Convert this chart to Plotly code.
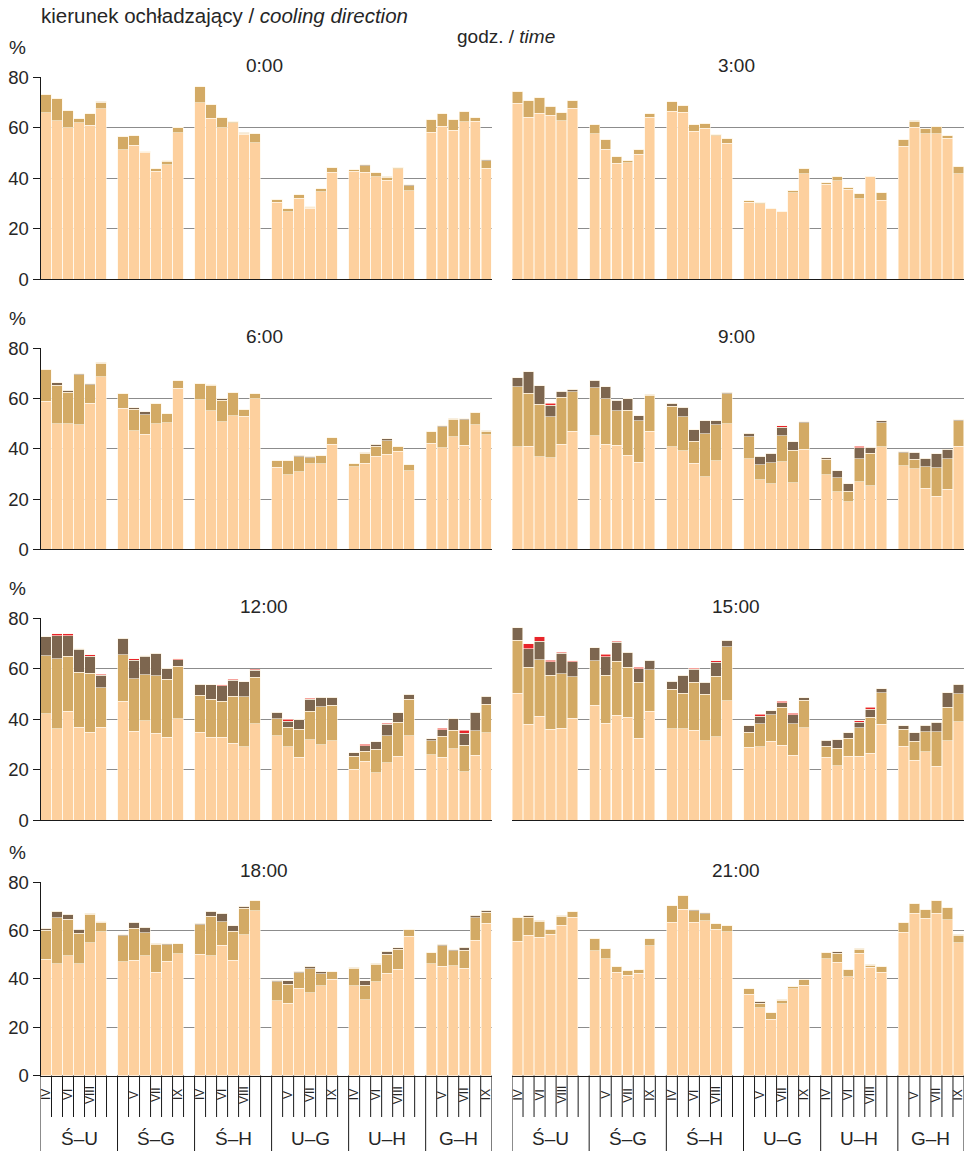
import plotly.graph_objects as go

# Wind-direction pairs and months (IV-IX) shown on every panel
GROUPS = ["Ś–U", "Ś–G", "Ś–H", "U–G", "U–H", "G–H"]
MONTHS = ["IV", "V", "VI", "VII", "VIII", "IX"]
HOURS = ["0:00", "3:00", "6:00", "9:00", "12:00", "15:00", "18:00", "21:00"]

# Stacked shares (%) for each hour: 6 groups x 6 months, four classes per bar
H00_BASE = [66.0, 62.8, 60.0, 62.0, 61.1, 67.5, 51.3, 53.2, 50.3, 42.9, 45.4, 58.0,
            70.0, 63.8, 60.0, 62.0, 57.4, 54.1, 30.5, 26.7, 32.2, 28.2, 34.7, 42.4,
            42.8, 42.4, 40.7, 39.3, 43.8, 35.0, 58.2, 60.7, 59.1, 62.4, 62.7, 44.0]
H00_TAN = [7.3, 8.9, 6.7, 1.5, 4.4, 2.6, 5.3, 3.6, 0.4, 0.9, 1.3, 2.3,
           6.3, 5.5, 4.2, 0.6, 0.5, 3.5, 1.3, 1.2, 1.3, 0.3, 1.1, 2.0,
           0.6, 2.6, 1.5, 1.2, 0.6, 2.0, 4.9, 4.8, 4.3, 4.1, 1.2, 3.0]
H00_DARK = [0, 0, 0, 0, 0, 0.5, 0, 0, 0, 0, 0.3, 0,
            0, 0, 0, 0, 0.4, 0, 0, 0, 0, 0.3, 0, 0,
            0, 0.3, 0, 0.4, 0, 0.4, 0, 0, 0, 0, 0, 0.3]
H00_RED = [0, 0, 0, 0, 0, 0, 0, 0, 0, 0, 0, 0,
           0, 0, 0, 0, 0, 0, 0, 0, 0, 0, 0, 0,
           0, 0, 0, 0, 0, 0, 0, 0, 0, 0, 0, 0]

H03_BASE = [69.7, 64.1, 65.8, 65.0, 62.8, 67.7, 57.6, 51.6, 45.9, 46.2, 49.5, 64.2,
            66.5, 66.2, 58.6, 59.8, 56.8, 53.9, 30.5, 30.0, 27.9, 26.8, 34.4, 41.9,
            37.7, 39.1, 35.7, 32.0, 40.6, 31.4, 52.8, 60.2, 57.6, 57.6, 55.9, 41.9]
H03_TAN = [4.7, 6.6, 6.4, 3.3, 3.1, 3.0, 3.7, 3.9, 2.7, 1.0, 2.0, 1.3,
           3.9, 2.8, 2.7, 2.0, 0.6, 2.0, 0.7, 0.6, 0.1, 0.0, 0.8, 2.1,
           0.6, 1.6, 0.7, 2.0, 0.3, 3.0, 2.7, 2.5, 2.1, 2.9, 1.1, 2.8]
H03_DARK = [0, 0, 0, 0.3, 0, 0, 0, 0, 0, 0, 0, 0,
            0, 0, 0, 0, 0, 0, 0, 0, 0, 0, 0, 0,
            0, 0, 0, 0, 0, 0, 0, 0.3, 0, 0, 0, 0]
H03_RED = [0, 0, 0, 0, 0, 0, 0, 0, 0, 0, 0, 0,
           0, 0, 0, 0, 0, 0, 0, 0, 0, 0, 0, 0,
           0, 0, 0, 0, 0, 0, 0, 0, 0, 0, 0, 0]

H06_BASE = [58.9, 49.9, 49.9, 49.5, 58.2, 68.6, 56.1, 47.1, 45.8, 50.0, 50.4, 64.1,
            59.6, 55.1, 50.7, 53.2, 52.9, 60.0, 32.6, 29.6, 30.9, 34.1, 34.1, 41.9,
            32.9, 34.2, 37.1, 37.8, 39.1, 31.2, 42.2, 40.5, 44.7, 41.4, 49.5, 45.5]
H06_TAN = [12.7, 15.4, 12.6, 19.9, 7.2, 5.4, 6.0, 8.6, 7.7, 8.2, 3.5, 2.9,
           6.5, 10.1, 8.7, 9.3, 2.8, 2.0, 2.7, 5.8, 6.0, 2.3, 3.4, 2.4,
           1.2, 4.1, 4.0, 5.4, 2.0, 2.4, 4.5, 8.3, 7.0, 10.1, 5.0, 1.5]
H06_DARK = [0, 0.9, 0.9, 0.4, 0.4, 0.4, 0, 0.7, 1.2, 0, 0, 0,
            0, 0.3, 0.8, 0, 0, 0, 0, 0, 0.5, 0.6, 0, 0,
            0, 0.4, 0.7, 0.7, 0, 0, 0, 0.4, 0.4, 0.4, 0, 0.4]
H06_RED = [0, 0, 0, 0, 0, 0, 0, 0, 0, 0, 0, 0,
           0, 0, 0, 0, 0, 0, 0, 0, 0, 0, 0, 0,
           0, 0, 0, 0, 0, 0, 0, 0, 0, 0, 0, 0]

H09_BASE = [40.9, 41.1, 36.9, 36.4, 41.8, 47.0, 45.1, 41.9, 41.5, 37.5, 34.6, 47.0,
            40.9, 39.3, 34.2, 28.9, 35.2, 49.9, 36.1, 27.7, 26.1, 34.8, 26.4, 39.8,
            29.6, 23.0, 19.0, 26.8, 25.3, 40.9, 33.3, 32.0, 24.3, 21.1, 23.9, 41.1]
H09_TAN = [23.7, 21.0, 20.9, 16.4, 18.7, 15.8, 19.2, 18.1, 13.6, 17.8, 16.5, 14.4,
           16.1, 13.5, 8.9, 17.1, 14.4, 12.1, 8.6, 6.0, 8.3, 10.4, 13.1, 10.5,
           6.2, 5.5, 4.2, 9.2, 13.0, 9.5, 5.2, 3.8, 8.6, 11.4, 12.2, 10.1]
H09_DARK = [3.7, 8.5, 7.3, 4.6, 2.4, 0.9, 3.0, 4.7, 4.3, 4.7, 2.0, 0.4,
            1.2, 3.8, 4.4, 5.1, 1.5, 0.5, 1.5, 3.4, 3.8, 3.4, 3.4, 0.5,
            0.6, 2.7, 2.8, 4.5, 2.3, 0.8, 0.4, 2.9, 3.3, 5.6, 3.8, 0.3]
H09_RED = [0, 0, 0, 0.7, 0, 0, 0, 0, 0, 0, 0, 0,
           0, 0, 0, 0, 0, 0, 0, 0, 0, 0.5, 0, 0,
           0, 0, 0, 0.6, 0, 0, 0, 0, 0, 0, 0, 0]

H12_BASE = [42.3, 36.2, 43.2, 36.8, 34.9, 36.8, 47.2, 35.3, 39.5, 34.5, 32.9, 40.2,
            34.9, 32.9, 32.9, 30.5, 29.1, 38.2, 33.5, 29.2, 25.0, 31.9, 29.9, 31.6,
            20.2, 23.4, 18.8, 22.9, 25.4, 33.5, 25.9, 25.0, 28.4, 19.2, 25.8, 34.6]
H12_TAN = [23.0, 27.8, 21.9, 21.8, 23.4, 15.8, 18.4, 20.8, 18.2, 22.8, 22.9, 20.9,
           14.7, 15.1, 14.3, 18.7, 19.8, 18.4, 6.7, 7.6, 11.0, 11.3, 15.1, 13.9,
           5.1, 4.0, 9.4, 10.7, 13.5, 14.4, 5.7, 8.3, 7.2, 10.6, 9.6, 11.3]
H12_DARK = [7.4, 9.1, 8.0, 9.1, 6.8, 4.9, 6.5, 7.4, 7.4, 8.9, 4.5, 2.5,
            4.4, 5.8, 6.1, 6.3, 6.0, 2.9, 2.6, 2.5, 3.9, 4.7, 3.7, 3.2,
            1.5, 2.1, 3.0, 4.5, 3.7, 2.1, 0.7, 2.5, 4.7, 4.6, 7.4, 3.3]
H12_RED = [0, 0.9, 0.9, 0.3, 0.4, 0.4, 0, 0.6, 0.2, 0, 0, 0.4,
           0, 0, 0.4, 0.4, 0, 0.4, 0, 0.8, 0, 0.5, 0, 0,
           0, 0.6, 0, 0.4, 0, 0, 0, 0.7, 0, 1.2, 0, 0]

H15_BASE = [50.3, 38.0, 41.2, 36.0, 36.4, 40.4, 45.6, 38.4, 41.6, 40.8, 32.5, 43.2,
            36.3, 36.3, 35.6, 31.5, 33.2, 47.4, 29.0, 29.1, 31.3, 29.7, 25.7, 36.6,
            24.9, 21.7, 25.4, 25.3, 26.5, 38.0, 29.4, 23.7, 27.2, 21.5, 31.5, 39.1]
H15_TAN = [21.1, 22.7, 22.4, 21.4, 21.7, 16.4, 17.7, 19.1, 21.4, 19.9, 22.2, 16.4,
           15.6, 14.0, 19.2, 18.4, 23.9, 21.3, 5.8, 9.2, 10.6, 15.1, 12.6, 10.9,
           4.5, 6.8, 7.1, 11.4, 14.4, 12.6, 6.6, 7.6, 7.8, 13.6, 13.3, 11.0]
H15_DARK = [4.8, 7.2, 7.4, 5.5, 8.1, 6.1, 5.0, 7.4, 7.5, 5.8, 5.4, 3.8,
            3.2, 7.1, 5.1, 4.9, 5.5, 2.7, 2.7, 2.9, 1.5, 1.8, 3.6, 1.1,
            2.3, 3.4, 2.1, 2.2, 3.2, 1.6, 1.5, 3.3, 2.7, 3.7, 5.7, 3.9]
H15_RED = [0, 2.0, 1.7, 0.5, 0.4, 0.4, 0, 0.8, 0.5, 0, 0.6, 0,
           0, 0, 0.4, 0, 0.7, 0, 0, 0.8, 0, 0.6, 0.5, 0,
           0, 0, 0, 0.6, 0.7, 0, 0, 0, 0, 0, 0, 0]

H18_BASE = [48.2, 46.2, 49.6, 46.2, 54.9, 59.5, 47.2, 47.8, 49.6, 42.8, 47.3, 50.5,
            50.2, 49.7, 54.0, 47.8, 58.4, 68.2, 31.0, 29.9, 36.1, 34.2, 37.2, 39.9,
            37.2, 31.3, 38.8, 42.4, 44.0, 57.7, 46.2, 45.3, 45.5, 44.4, 56.1, 63.1]
H18_TAN = [11.9, 19.1, 15.2, 12.8, 12.0, 3.9, 10.7, 13.2, 9.5, 11.6, 6.8, 4.0,
           12.2, 16.2, 9.8, 12.0, 10.8, 4.2, 7.8, 7.9, 6.4, 10.0, 4.9, 3.0,
           7.3, 6.1, 7.2, 7.8, 8.3, 2.8, 4.9, 8.5, 6.1, 7.4, 9.2, 4.6]
H18_DARK = [0.9, 2.8, 2.1, 1.6, 0.4, 0.4, 0.4, 2.5, 2.4, 0.4, 0.4, 0,
            0.7, 2.2, 3.5, 2.2, 1.0, 0, 0.6, 1.5, 0.7, 1.1, 0.8, 0,
            0.3, 1.9, 0.5, 1.3, 0.7, 0, 0, 0.6, 0.4, 1.3, 1.1, 0.7]
H18_RED = [0, 0, 0, 0, 0, 0, 0, 0, 0, 0, 0, 0,
           0, 0, 0, 0, 0, 0, 0, 0, 0, 0, 0, 0,
           0, 0, 0, 0, 0, 0, 0, 0, 0, 0, 0, 0]

H21_BASE = [55.7, 58.1, 57.3, 58.5, 62.3, 65.6, 51.6, 48.3, 42.8, 41.6, 42.3, 53.8,
            63.5, 68.9, 63.5, 64.2, 60.6, 59.5, 33.6, 28.0, 23.4, 29.8, 36.0, 37.3,
            48.4, 46.9, 41.0, 50.6, 44.8, 42.8, 59.3, 67.2, 65.2, 67.2, 64.5, 54.9]
H21_TAN = [9.9, 7.5, 6.6, 1.8, 3.6, 2.3, 5.2, 4.5, 2.4, 1.8, 1.5, 2.9,
           6.8, 5.8, 4.7, 2.8, 2.3, 2.8, 2.4, 1.9, 2.8, 1.3, 1.0, 2.4,
           2.6, 3.8, 3.0, 1.7, 0.8, 2.5, 4.1, 4.1, 3.4, 5.3, 5.2, 3.2]
H21_DARK = [0, 0.8, 0.4, 0.3, 0.4, 0, 0, 0, 0, 0, 0, 0,
            0, 0, 0.4, 0.4, 0, 0, 0, 0.9, 0, 0.4, 0, 0,
            0, 0.6, 0, 0.5, 0.4, 0, 0, 0, 0, 0, 0, 0.4]
H21_RED = [0, 0, 0, 0, 0, 0, 0, 0, 0, 0, 0, 0,
           0, 0, 0, 0, 0, 0, 0, 0, 0, 0, 0, 0,
           0, 0, 0, 0, 0, 0, 0, 0, 0, 0, 0, 0]

PANELS = [
    (H00_BASE, H00_TAN, H00_DARK, H00_RED),
    (H03_BASE, H03_TAN, H03_DARK, H03_RED),
    (H06_BASE, H06_TAN, H06_DARK, H06_RED),
    (H09_BASE, H09_TAN, H09_DARK, H09_RED),
    (H12_BASE, H12_TAN, H12_DARK, H12_RED),
    (H15_BASE, H15_TAN, H15_DARK, H15_RED),
    (H18_BASE, H18_TAN, H18_DARK, H18_RED),
    (H21_BASE, H21_TAN, H21_DARK, H21_RED),
]
LAYER_COLORS = ["#FDD09E", "#D3AA65", "#7D664F", "#E8242B"]

# Page geometry (pixels)
W, H = 964, 1151
ROWS_PX = [(77.3, 279.4), (348.3, 549.3), (618.4, 820.3), (882.4, 1075.5)]
COLS_PX = [(40.5, 491.7), (512.0, 964.0)]
SLOTS = 7  # six months plus a spacer slot per group
FONT = "Arial, Liberation Sans, sans-serif"
TXT = "#262626"


def fx(p):
    return p / W


def fy(p):
    return 1 - p / H


# x position of every bar: group * 7 + month index
XPOS = [g * SLOTS + m for g in range(len(GROUPS)) for m in range(len(MONTHS))]
HOVER = [f"{GROUPS[g]} {MONTHS[m]}" for g in range(len(GROUPS)) for m in range(len(MONTHS))]

fig = go.Figure()
annotations = []
shapes = []

for p, layers in enumerate(PANELS):
    row, col = divmod(p, 2)
    suffix = "" if p == 0 else str(p + 1)
    xa, ya = "x" + suffix, "y" + suffix
    for vals, colr in zip(layers, LAYER_COLORS):
        fig.add_trace(go.Bar(
            x=XPOS, y=vals, xaxis=xa, yaxis=ya,
            marker=dict(color=colr, line=dict(color="#fff6e8", width=0.6)),
            hovertext=HOVER, showlegend=False,
        ))
    top, bot = ROWS_PX[row]
    left, right = COLS_PX[col]
    fig.layout["xaxis" + suffix] = dict(
        domain=[fx(left), fx(right)], anchor=ya, range=[-0.5, 40.5],
        showgrid=False, zeroline=False, showticklabels=False, ticks="",
        showline=True, linecolor="#1a1a1a", linewidth=1, fixedrange=True,
        automargin=False,
    )
    yax = dict(
        domain=[fy(bot), fy(top)], anchor=xa, range=[0, 80], tick0=0, dtick=20,
        showgrid=True, gridcolor="#8c8c8c", gridwidth=1, zeroline=False,
        fixedrange=True, automargin=False,
    )
    if col == 0:
        yax.update(showline=True, linecolor="#1a1a1a", linewidth=1,
                   ticks="outside", ticklen=7, tickcolor="#1a1a1a",
                   tickfont=dict(family=FONT, size=18.5, color=TXT))
        annotations.append(dict(
            text="%", xref="paper", yref="paper", x=fx(17), y=fy(top - 30),
            xanchor="center", yanchor="middle", showarrow=False,
            font=dict(family=FONT, size=19, color=TXT)))
    else:
        yax.update(showline=False, showticklabels=False, ticks="")
    fig.layout["yaxis" + suffix] = yax

    # hour title above each panel
    annotations.append(dict(
        text=HOURS[p], xref="paper", yref="paper",
        x=fx((left + right) / 2 - 2), y=fy(top - 12),
        xanchor="center", yanchor="middle", showarrow=False,
        font=dict(family=FONT, size=19, color=TXT)))

    # category axis drawn under the bottom row
    if row == 3:
        axis_y = fy(bot)
        n_slots = len(GROUPS) * SLOTS - 1
        for k in range(n_slots + 1):
            tall = (k % SLOTS == 0) or (k == n_slots)
            shapes.append(dict(
                type="line", xref=xa, yref="paper", x0=k - 0.5, x1=k - 0.5,
                y0=axis_y, y1=fy(1151 if tall else 1117),
                line=dict(color="#1a1a1a", width=1)))
        for g, name in enumerate(GROUPS):
            for m, mon in enumerate(MONTHS):
                if (m + g) % 2 == 0:
                    annotations.append(dict(
                        text=mon, xref=xa, yref="paper", x=g * SLOTS + m,
                        y=fy(1095), textangle=-90, xanchor="center",
                        yanchor="middle", showarrow=False,
                        font=dict(family=FONT, size=12, color=TXT)))
            last = len(MONTHS) - 1
            gc = g * SLOTS + (last / 2 if g == len(GROUPS) - 1 else (SLOTS - 1) / 2)
            annotations.append(dict(
                text=name, xref=xa, yref="paper", x=gc, y=fy(1138),
                xanchor="center", yanchor="middle", showarrow=False,
                font=dict(family=FONT, size=19, color=TXT)))

annotations.append(dict(
    text="kierunek ochładzający / <i>cooling direction</i>", xref="paper",
    yref="paper", x=fx(39), y=fy(16), xanchor="left", yanchor="middle",
    showarrow=False, font=dict(family=FONT, size=20.5, color=TXT)))
annotations.append(dict(
    text="godz. / <i>time</i>", xref="paper", yref="paper", x=fx(506),
    y=fy(37), xanchor="center", yanchor="middle", showarrow=False,
    font=dict(family=FONT, size=19, color=TXT)))

fig.update_layout(
    width=W, height=H, autosize=False, barmode="stack", bargap=0.06,
    margin=dict(l=0, r=0, t=0, b=0, pad=0, autoexpand=False),
    paper_bgcolor="white", plot_bgcolor="white", showlegend=False,
    annotations=annotations, shapes=shapes,
)

# keep the fixed-size figure flush with the page corner
fig.write_html(
    "out.html",
    config={"displayModeBar": False},
    post_script="document.body.style.margin='0';document.body.style.overflow='hidden';",
)
